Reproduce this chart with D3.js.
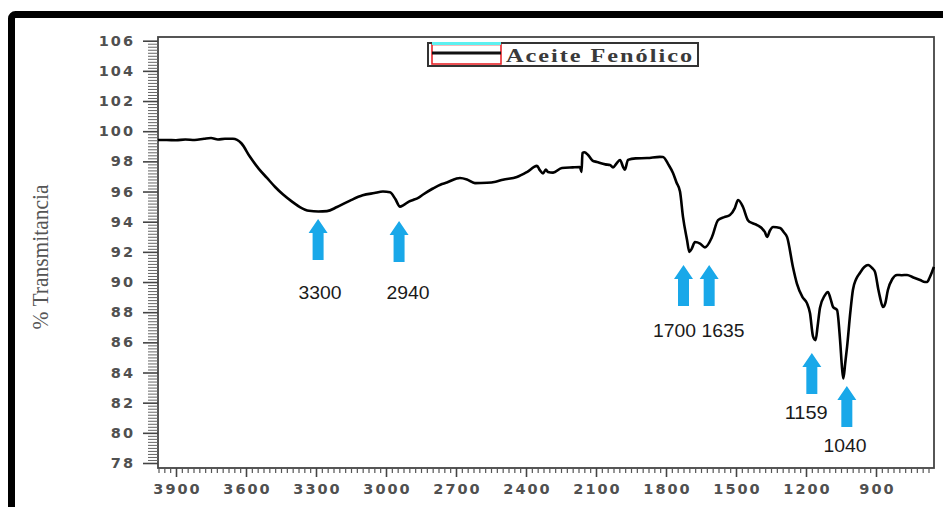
<!DOCTYPE html>
<html>
<head>
<meta charset="utf-8">
<script src="https://cdn.jsdelivr.net/npm/d3@7/dist/d3.min.js"></script>
<style>
  html, body { margin: 0; padding: 0; background: #fff; }
  svg { display: block; }
</style>
</head>
<body>
<svg id="chart" width="943" height="507"></svg>
<script>
// ---------- DATA ----------
const wavenumber = [3977,3940,3900,3860,3820,3780,3750,3720,3690,3656,3620,3583,3545,3510,3475,3441,3400,3369,3330,3290,3253,3210,3154,3100,3050,3013,2983,2960,2940,2925,2900,2884,2860,2841,2799,2760,2739,2700,2683,2653,2619,2567,2530,2499,2439,2396,2353,2340,2327,2315,2306,2284,2246,2200,2169,2162,2158,2150,2134,2115,2096,2060,2040,2027,2010,1997,1983,1976,1963,1930,1881,1826,1813,1790,1770,1755,1740,1727,1710,1700,1690,1676,1654,1633,1603,1577,1550,1526,1505,1491,1470,1449,1430,1410,1376,1367,1355,1341,1311,1295,1281,1256,1239,1215,1196,1183,1170,1159,1150,1140,1120,1106,1095,1084,1067,1054,1045,1040,1032,1024,1010,999,985,969,950,934,915,904,890,883,870,860,849,830,810,790,767,740,711,690,681,670,660,652];
const transmittance = [99.42,99.42,99.40,99.45,99.42,99.50,99.55,99.45,99.50,99.50,99.2,98.3,97.5,96.9,96.3,95.8,95.3,94.97,94.72,94.68,94.7,94.97,95.4,95.75,95.9,96.0,95.95,95.5,95.0,95.1,95.35,95.44,95.6,95.8,96.2,96.5,96.6,96.85,96.9,96.8,96.56,96.58,96.65,96.78,96.96,97.29,97.7,97.4,97.2,97.45,97.3,97.25,97.56,97.6,97.62,97.3,98.55,98.6,98.42,98.05,97.96,97.8,97.76,97.6,97.9,98.09,97.6,97.45,98.1,98.2,98.22,98.3,98.29,97.8,97.23,96.6,96.0,94.3,92.8,92.0,92.2,92.65,92.55,92.3,92.98,94.1,94.3,94.44,94.9,95.44,94.97,94.1,93.9,93.78,93.31,92.98,93.4,93.65,93.58,93.3,92.98,91.0,89.9,89.0,88.6,87.94,86.4,86.15,87.1,88.3,89.1,89.34,88.9,88.34,88.14,86.15,84.2,83.6,84.6,85.7,88.0,89.47,90.2,90.6,91.0,91.13,90.9,90.66,89.5,89.0,88.34,88.6,89.47,90.2,90.47,90.45,90.47,90.3,90.13,90.0,90.0,90.3,90.66,91.0];

const xTickLabels = [3900,3600,3300,3000,2700,2400,2100,1800,1500,1200,900];
const yTickLabels = [78,80,82,84,86,88,90,92,94,96,98,100,102,104,106];

const seriesName = "Aceite Fenólico";
const yTitle = "% Transmitancia";

// annotations (peaks)
const peakLabels   = ["3300","2940","1700","1635","1159","1040"];
const arrowWn      = [3291, 2944, 1725, 1615, 1175, 1025];
const arrowTipT    = [94.17, 94.04, 91.12, 91.12, 85.29, 83.1];
const labelWn      = [3283, 2906, 1764, 1556, 1199, 1033];
const labelT       = [89.33, 89.33, 86.8, 86.8, 81.36, 79.17];

// ---------- LAYOUT ----------
const svg = d3.select("#chart");
const plotLeft = 158, plotRight = 934, plotTop = 37, plotBottom = 468;

const x = d3.scaleLinear().domain([3900, 900]).range([176, 876]);
const y = d3.scaleLinear().domain([78, 106]).range([463, 40.7]);

// outer black frame
svg.append("rect")
  .attr("x", 11.5).attr("y", 14.5)
  .attr("width", 1000).attr("height", 600)
  .attr("rx", 4)
  .attr("fill", "none").attr("stroke", "#000").attr("stroke-width", 7);

// plot frame
svg.append("rect")
  .attr("x", plotLeft).attr("y", plotTop)
  .attr("width", plotRight - plotLeft).attr("height", plotBottom - plotTop)
  .attr("fill", "none").attr("stroke", "#444").attr("stroke-width", 1.8);

// ---------- AXES ----------
const tickFont = "'DejaVu Sans', Verdana, sans-serif";
const tickColor = "#505050";

// Y minor ticks
const yMinor = d3.range(78, 106.001, 0.2).filter(v => Math.abs(v / 2 - Math.round(v / 2)) > 1e-6);
svg.append("g").attr("transform", `translate(${plotLeft},0)`)
  .call(d3.axisLeft(y).tickValues(yMinor).tickSize(10).tickFormat(""))
  .call(g => g.select(".domain").remove())
  .call(g => g.selectAll("line").attr("stroke", "#666").attr("stroke-width", 1));

// Y major ticks
svg.append("g").attr("transform", `translate(${plotLeft},0)`)
  .call(d3.axisLeft(y).tickValues(yTickLabels).tickSize(15).tickPadding(10).tickFormat(d3.format("d")))
  .call(g => g.select(".domain").remove())
  .call(g => g.selectAll("line").attr("stroke", "#444").attr("stroke-width", 1.6))
  .call(g => g.selectAll("text")
      .attr("font-family", tickFont).attr("font-weight", "bold")
      .attr("font-size", 14.5).attr("letter-spacing", "2px")
      .attr("fill", tickColor).attr("dx", "2px"));

// X minor ticks
const xMinor = d3.range(675, 3976, 25).filter(v => v % 300 !== 0);
svg.append("g").attr("transform", `translate(0,${plotBottom})`)
  .call(d3.axisBottom(x).tickValues(xMinor).tickSize(5).tickFormat(""))
  .call(g => g.select(".domain").remove())
  .call(g => g.selectAll("line").attr("stroke", "#555").attr("stroke-width", 1.2));

// X major ticks
svg.append("g").attr("transform", `translate(0,${plotBottom})`)
  .call(d3.axisBottom(x).tickValues(xTickLabels).tickSize(9).tickPadding(7).tickFormat(d3.format("d")))
  .call(g => g.select(".domain").remove())
  .call(g => g.selectAll("line").attr("stroke", "#444").attr("stroke-width", 1.6))
  .call(g => g.selectAll("text")
      .attr("font-family", tickFont).attr("font-weight", "bold")
      .attr("font-size", 14.5).attr("letter-spacing", "2px")
      .attr("fill", tickColor).attr("dx", "1px"));

// Y title
svg.append("text")
  .attr("transform", `translate(48,257) rotate(-90)`)
  .attr("text-anchor", "middle")
  .attr("font-family", "'Liberation Serif', 'Times New Roman', serif")
  .attr("font-size", 23)
  .attr("textLength", 145).attr("lengthAdjust", "spacingAndGlyphs")
  .attr("fill", "#555")
  .text(yTitle);

// ---------- SERIES ----------
const pts = wavenumber.map((w, i) => [w, transmittance[i]]);
const line = d3.line().x(d => x(d[0])).y(d => y(d[1])).curve(d3.curveMonotoneX);
svg.append("path")
  .datum(pts)
  .attr("d", line)
  .attr("fill", "none")
  .attr("stroke", "#000")
  .attr("stroke-width", 2.6)
  .attr("stroke-linejoin", "round");

// ---------- LEGEND ----------
const lg = svg.append("g");
lg.append("rect").attr("x", 428).attr("y", 43).attr("width", 270).attr("height", 23)
  .attr("fill", "#fff").attr("stroke", "#333").attr("stroke-width", 2);
lg.append("rect").attr("x", 432).attr("y", 44.5).attr("width", 69).attr("height", 19.5)
  .attr("fill", "none").attr("stroke", "#e8262b").attr("stroke-width", 1.6);
lg.append("line").attr("x1", 432).attr("x2", 501).attr("y1", 43.5).attr("y2", 43.5)
  .attr("stroke", "#5ef0f0").attr("stroke-width", 3);
lg.append("line").attr("x1", 432).attr("x2", 501).attr("y1", 53).attr("y2", 53)
  .attr("stroke", "#111").attr("stroke-width", 3);
lg.append("text").attr("x", 506).attr("y", 61.5)
  .attr("font-family", "'Liberation Serif', 'Times New Roman', serif")
  .attr("font-weight", "bold").attr("font-size", 18.5)
  .attr("letter-spacing", "1.5px")
  .attr("textLength", 188).attr("lengthAdjust", "spacingAndGlyphs")
  .attr("fill", "#3a3a3a")
  .text(seriesName);

// ---------- ANNOTATIONS ----------
const arrowColor = "#19a8e9";
const arrowLen = 41, headH = 14, headW = 19, shaftW = 11;
peakLabels.forEach((lab, i) => {
  const ax = x(arrowWn[i]), ty = y(arrowTipT[i]);
  const p = d3.path();
  p.moveTo(ax, ty);
  p.lineTo(ax + headW / 2, ty + headH);
  p.lineTo(ax + shaftW / 2, ty + headH);
  p.lineTo(ax + shaftW / 2, ty + arrowLen);
  p.lineTo(ax - shaftW / 2, ty + arrowLen);
  p.lineTo(ax - shaftW / 2, ty + headH);
  p.lineTo(ax - headW / 2, ty + headH);
  p.closePath();
  svg.append("path").attr("d", p.toString()).attr("fill", arrowColor);

  svg.append("text")
    .attr("x", x(labelWn[i])).attr("y", y(labelT[i]))
    .attr("dy", "0.36em")
    .attr("text-anchor", "middle")
    .attr("font-family", "'Liberation Sans', Arial, sans-serif")
    .attr("font-size", 18)
    .attr("textLength", 43).attr("lengthAdjust", "spacingAndGlyphs")
    .attr("fill", "#1a1a1a")
    .text(lab);
});
</script>
</body>
</html>
